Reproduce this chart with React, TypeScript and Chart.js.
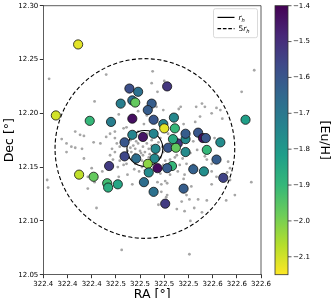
import React, { useEffect, useRef } from "react";
import { Chart, registerables } from "chart.js";
Chart.register(...registerables);

// Member stars (coloured by [Eu/H])
const starRA = [
  322.411, 322.388, 322.464, 322.473, 322.503, 322.467, 322.470, 322.455, 322.487, 322.483,
  322.423, 322.445, 322.467, 322.489, 322.499, 322.500, 322.510, 322.511, 322.478, 322.489,
  322.467, 322.459, 322.491, 322.504, 322.514, 322.512, 322.509, 322.522, 322.522, 322.535,
  322.540, 322.543, 322.558, 322.544, 322.522, 322.554, 322.530, 322.541, 322.561, 322.508,
  322.503, 322.493, 322.490, 322.584, 322.459, 322.471, 322.483, 322.484, 322.479, 322.489,
  322.501, 322.520, 322.443, 322.412, 322.427, 322.441, 322.442, 322.452,
];
const starDec = [
  12.264, 12.198, 12.223, 12.220, 12.225, 12.212, 12.210, 12.209, 12.209, 12.203,
  12.193, 12.192, 12.195, 12.194, 12.190, 12.186, 12.196, 12.186, 12.178, 12.181,
  12.180, 12.173, 12.167, 12.168, 12.172, 12.168, 12.176, 12.176, 12.181, 12.182,
  12.177, 12.177, 12.173, 12.166, 12.164, 12.157, 12.148, 12.146, 12.140, 12.151,
  12.149, 12.149, 12.158, 12.194, 12.160, 12.158, 12.153, 12.145, 12.136, 12.127,
  12.116, 12.130, 12.151, 12.143, 12.141, 12.135, 12.131, 12.134,
];
const starEuH = [
  -2.12, -2.10, -1.58, -1.68, -1.52, -1.67, -1.97, -1.72, -1.62, -1.62,
  -1.90, -1.72, -1.43, -1.60, -1.74, -2.12, -1.75, -1.90, -1.44, -1.74,
  -1.74, -1.60, -1.75, -1.60, -1.52, -1.97, -1.86, -1.76, -1.62, -1.60,
  -1.42, -1.60, -1.76, -1.90, -1.76, -1.62, -1.63, -1.77, -1.55, -1.90,
  -1.62, -1.42, -1.75, -1.82, -1.56, -1.67, -2.02, -1.76, -1.67, -1.68,
  -1.53, -1.62, -1.53, -2.08, -1.97, -1.92, -1.87, -1.84,
];

// Field stars (grey)
const fieldRA = [
  322.381, 322.440, 322.488, 322.487, 322.500, 322.493, 322.428, 322.453, 322.473, 322.492,
  322.499, 322.482, 322.479, 322.593, 322.580, 322.517, 322.515, 322.533, 322.539, 322.542,
  322.549, 322.554, 322.558, 322.537, 322.560, 322.440, 322.444, 322.449, 322.408, 322.413,
  322.417, 322.394, 322.399, 322.404, 322.427, 322.434, 322.451, 322.458, 322.461, 322.408,
  322.415, 322.399, 322.417, 322.449, 322.446, 322.449, 322.444, 322.447, 322.458, 322.425,
  322.421, 322.436, 322.453, 322.462, 322.474, 322.379, 322.380, 322.421, 322.428, 322.430,
  322.467, 322.456, 322.493, 322.497, 322.501, 322.503, 322.520, 322.497, 322.503, 322.502,
  322.494, 322.513, 322.518, 322.521, 322.526, 322.528, 322.523, 322.531, 322.535, 322.544,
  322.539, 322.527, 322.549, 322.564, 322.573, 322.590, 322.568, 322.526, 322.520, 322.532,
  322.530, 322.552, 322.534, 322.527, 322.542, 322.544, 322.519, 322.513, 322.506, 322.499,
  322.516, 322.523, 322.530, 322.549, 322.566, 322.568, 322.549, 322.514, 322.521, 322.506,
  322.496, 322.554, 322.565,
  322.465, 322.468, 322.470, 322.473, 322.475, 322.478, 322.480, 322.482, 322.484, 322.485,
  322.487, 322.489, 322.490, 322.484, 322.478, 322.473, 322.470, 322.466, 322.477, 322.482,
  322.493, 322.496, 322.498, 322.494, 322.487, 322.480, 322.475, 322.470, 322.499, 322.501,
  322.463, 322.461, 322.470, 322.456, 322.454, 322.511, 322.504, 322.509, 322.476, 322.485,
  322.471, 322.494, 322.465, 322.462, 322.487, 322.496, 322.482, 322.473, 322.477, 322.469,
  322.480, 322.454, 322.452,
];
const fieldDec = [
  12.232, 12.236, 12.239, 12.228, 12.230, 12.220, 12.211, 12.199, 12.202, 12.206,
  12.203, 12.198, 12.190, 12.240, 12.220, 12.206, 12.204, 12.206, 12.209, 12.206,
  12.200, 12.205, 12.203, 12.197, 12.195, 12.178, 12.181, 12.183, 12.183, 12.180,
  12.179, 12.176, 12.172, 12.169, 12.173, 12.172, 12.172, 12.186, 12.187, 12.168,
  12.167, 12.164, 12.158, 12.177, 12.167, 12.164, 12.161, 12.157, 12.152, 12.149,
  12.141, 12.146, 12.141, 12.143, 12.146, 12.138, 12.131, 12.130, 12.136, 12.112,
  12.134, 12.073, 12.136, 12.134, 12.137, 12.135, 12.139, 12.127, 12.124, 12.122,
  12.115, 12.111, 12.118, 12.109, 12.120, 12.132, 12.124, 12.112, 12.120, 12.119,
  12.108, 12.100, 12.134, 12.119, 12.124, 12.136, 12.138, 12.069, 12.190, 12.192,
  12.174, 12.177, 12.166, 12.163, 12.160, 12.157, 12.158, 12.161, 12.157, 12.152,
  12.152, 12.153, 12.152, 12.153, 12.155, 12.149, 12.146, 12.146, 12.143, 12.143,
  12.144, 12.141, 12.145,
  12.175, 12.170, 12.167, 12.172, 12.165, 12.169, 12.164, 12.172, 12.167, 12.162,
  12.170, 12.165, 12.161, 12.159, 12.161, 12.159, 12.162, 12.164, 12.156, 12.155,
  12.164, 12.159, 12.169, 12.173, 12.175, 12.176, 12.176, 12.178, 12.164, 12.156,
  12.159, 12.153, 12.153, 12.162, 12.156, 12.159, 12.181, 12.172, 12.163, 12.156,
  12.174, 12.157, 12.168, 12.165, 12.179, 12.177, 12.181, 12.183, 12.150, 12.148,
  12.147, 12.169, 12.150,
];

// Cluster centre and half-light radius (deg)
const centerRA = 322.480;
const centerDec = 12.1673;
const halfLightRadius = 0.0167;

const xTickValues = [322.375, 322.4, 322.425, 322.45, 322.475, 322.5, 322.525, 322.55, 322.575, 322.6];
const xTickLabels = ["322.4", "322.4", "322.4", "322.5", "322.5", "322.5", "322.5", "322.6", "322.6", "322.6"];
const yTickValues = [12.05, 12.1, 12.15, 12.2, 12.25, 12.3];
const yTickLabels = ["12.05", "12.10", "12.15", "12.20", "12.25", "12.30"];

const euMin = -2.15;
const euMax = -1.4;
const cbTickValues = [-1.4, -1.5, -1.6, -1.7, -1.8, -1.9, -2.0, -2.1];
const cbTickLabels = ["\u22121.4", "\u22121.5", "\u22121.6", "\u22121.7", "\u22121.8", "\u22121.9", "\u22122.0", "\u22122.1"];

const viridisStops = ["#440154", "#482878", "#3e4a89", "#31688e", "#26828e", "#1f9e89", "#35b779", "#6dcd59", "#b4de2c", "#fde725"];

function hexToRgb(h: string) {
  return [parseInt(h.slice(1, 3), 16), parseInt(h.slice(3, 5), 16), parseInt(h.slice(5, 7), 16)];
}
function viridis(t: number) {
  const c = Math.max(0, Math.min(1, t)) * (viridisStops.length - 1);
  const i = Math.min(viridisStops.length - 2, Math.floor(c));
  const f = c - i;
  const a = hexToRgb(viridisStops[i]);
  const b = hexToRgb(viridisStops[i + 1]);
  const m = a.map((v, k) => Math.round(v + (b[k] - v) * f));
  return `rgb(${m[0]},${m[1]},${m[2]})`;
}
function euColor(v: number) {
  return viridis((euMax - v) / (euMax - euMin));
}

const FONT = "'DejaVu Sans', sans-serif";

const overlayPlugin = {
  id: "overlay",
  afterDatasetDraw(chart: any, args: any) {
    if (args.index !== 1) return;
    const { ctx, chartArea, scales } = chart;
    const cx = scales.x.getPixelForValue(centerRA);
    const cy = scales.y.getPixelForValue(centerDec);
    const r = scales.y.getPixelForValue(centerDec - halfLightRadius) - cy;
    ctx.save();
    ctx.beginPath();
    ctx.rect(chartArea.left, chartArea.top, chartArea.right - chartArea.left, chartArea.bottom - chartArea.top);
    ctx.clip();
    ctx.strokeStyle = "#000";
    ctx.lineWidth = 1.1;
    ctx.beginPath();
    ctx.arc(cx, cy, r, 0, Math.PI * 2);
    ctx.stroke();
    ctx.setLineDash([4, 2.4]);
    ctx.beginPath();
    ctx.arc(cx, cy, r * 5, 0, Math.PI * 2);
    ctx.stroke();
    ctx.restore();
  },
  afterDraw(chart: any) {
    const { ctx, chartArea } = chart;
    const { left, right, top, bottom } = chartArea;
    ctx.save();
    // frame top/right
    ctx.strokeStyle = "#333";
    ctx.lineWidth = 0.8;
    ctx.beginPath();
    ctx.moveTo(left, top);
    ctx.lineTo(right, top);
    ctx.lineTo(right, bottom);
    ctx.stroke();

    // legend
    const lx = right - 47.5;
    const ly = top + 3;
    ctx.fillStyle = "rgba(255,255,255,0.85)";
    ctx.strokeStyle = "#d0d0d0";
    ctx.lineWidth = 0.8;
    ctx.beginPath();
    ctx.roundRect(lx, ly, 44, 29, 2);
    ctx.fill();
    ctx.stroke();
    ctx.strokeStyle = "#000";
    ctx.lineWidth = 1.2;
    ctx.beginPath();
    ctx.moveTo(lx + 4, ly + 8.7);
    ctx.lineTo(lx + 21, ly + 8.7);
    ctx.stroke();
    ctx.setLineDash([3.6, 1.8]);
    ctx.beginPath();
    ctx.moveTo(lx + 4, ly + 20);
    ctx.lineTo(lx + 21, ly + 20);
    ctx.stroke();
    ctx.setLineDash([]);
    ctx.fillStyle = "#000";
    ctx.textBaseline = "alphabetic";
    ctx.textAlign = "left";
    const drawRh = (x: number, y: number, prefix: string) => {
      let xx = x;
      if (prefix) {
        ctx.font = `7.5px ${FONT}`;
        ctx.fillText(prefix, xx, y);
        xx += ctx.measureText(prefix).width;
      }
      ctx.font = `italic 7.5px ${FONT}`;
      ctx.fillText("r", xx, y);
      xx += ctx.measureText("r").width;
      ctx.font = `italic 5.2px ${FONT}`;
      ctx.fillText("h", xx, y + 1.6);
    };
    drawRh(lx + 25, ly + 11.2, "");
    drawRh(lx + 25, ly + 22.5, "5");

    // colorbar
    const cbx = right + 14;
    const cbw = 13;
    const h = bottom - top;
    const grad = ctx.createLinearGradient(0, top, 0, bottom);
    viridisStops.forEach((c, i) => grad.addColorStop(i / (viridisStops.length - 1), c));
    ctx.fillStyle = grad;
    ctx.fillRect(cbx, top, cbw, h);
    ctx.strokeStyle = "#333";
    ctx.lineWidth = 0.8;
    ctx.strokeRect(cbx, top, cbw, h);
    ctx.fillStyle = "#000";
    ctx.font = `7px ${FONT}`;
    ctx.textBaseline = "middle";
    ctx.textAlign = "left";
    cbTickValues.forEach((v, i) => {
      const y = top + ((euMax - v) / (euMax - euMin)) * h;
      ctx.beginPath();
      ctx.moveTo(cbx + cbw, y);
      ctx.lineTo(cbx + cbw + 3.5, y);
      ctx.stroke();
      ctx.fillText(cbTickLabels[i], cbx + cbw + 5, y);
    });

    // axis titles
    ctx.font = `12.5px ${FONT}`;
    ctx.textAlign = "center";
    ctx.textBaseline = "alphabetic";
    ctx.fillText("RA [\u00b0]", (left + right) / 2, 297.5);
    ctx.save();
    ctx.translate(12.6, (top + bottom) / 2);
    ctx.rotate(-Math.PI / 2);
    ctx.fillText("Dec [\u00b0]", 0, 0);
    ctx.restore();
    ctx.save();
    ctx.translate(320.5, (top + bottom) / 2);
    ctx.rotate(Math.PI / 2);
    ctx.fillText("[Eu/H]", 0, 0);
    ctx.restore();
    ctx.restore();
  },
};

export default function App() {
  const canvasRef = useRef<HTMLCanvasElement | null>(null);
  useEffect(() => {
    if (!canvasRef.current) return;
    const chart = new Chart(canvasRef.current, {
      type: "scatter",
      data: {
        datasets: [
          {
            data: starRA.map((x, i) => ({ x, y: starDec[i] })),
            pointBackgroundColor: starEuH.map(euColor),
            pointBorderColor: "#111",
            pointBorderWidth: 0.8,
            pointRadius: 4.6,
            pointHoverRadius: 4.6,
          },
          {
            data: fieldRA.map((x, i) => ({ x, y: fieldDec[i] })),
            pointBackgroundColor: "#a6a6a6",
            pointBorderWidth: 0,
            pointRadius: 1.4,
            pointHoverRadius: 1.4,
          },
        ],
      },
      options: {
        animation: false,
        responsive: true,
        maintainAspectRatio: false,
        events: [],
        layout: { padding: { left: 0, right: 75, top: 5, bottom: 0 } },
        plugins: { legend: { display: false }, tooltip: { enabled: false } },
        scales: {
          x: {
            type: "linear",
            min: 322.375,
            max: 322.6,
            afterFit: (s: any) => { s.height = 23.3; },
            afterBuildTicks: (s: any) => { s.ticks = xTickValues.map((v) => ({ value: v })); },
            ticks: {
              autoSkip: false,
              maxRotation: 0,
              padding: 1.5,
              color: "#000",
              font: { family: "DejaVu Sans", size: 7 },
              callback: (_v: any, i: number) => xTickLabels[i],
            },
            grid: { display: true, drawOnChartArea: false, drawTicks: true, tickLength: 3.5, color: "#000", lineWidth: 0.8 },
            border: { display: true, color: "#333", width: 0.8 },
          },
          y: {
            type: "linear",
            min: 12.05,
            max: 12.3,
            afterFit: (s: any) => { s.width = 43.3; },
            afterBuildTicks: (s: any) => { s.ticks = yTickValues.map((v) => ({ value: v })); },
            ticks: {
              autoSkip: false,
              padding: 1.5,
              color: "#000",
              font: { family: "DejaVu Sans", size: 7 },
              callback: (_v: any, i: number) => yTickLabels[i],
            },
            grid: { display: true, drawOnChartArea: false, drawTicks: true, tickLength: 3.5, color: "#000", lineWidth: 0.8 },
            border: { display: true, color: "#333", width: 0.8 },
          },
        },
      },
      plugins: [overlayPlugin],
    });
    return () => chart.destroy();
  }, []);
  return (
    <div style={{ position: "fixed", left: 0, top: 0, width: 336, height: 298, background: "#fff" }}>
      <canvas ref={canvasRef} style={{ display: "block" }} />
    </div>
  );
}
